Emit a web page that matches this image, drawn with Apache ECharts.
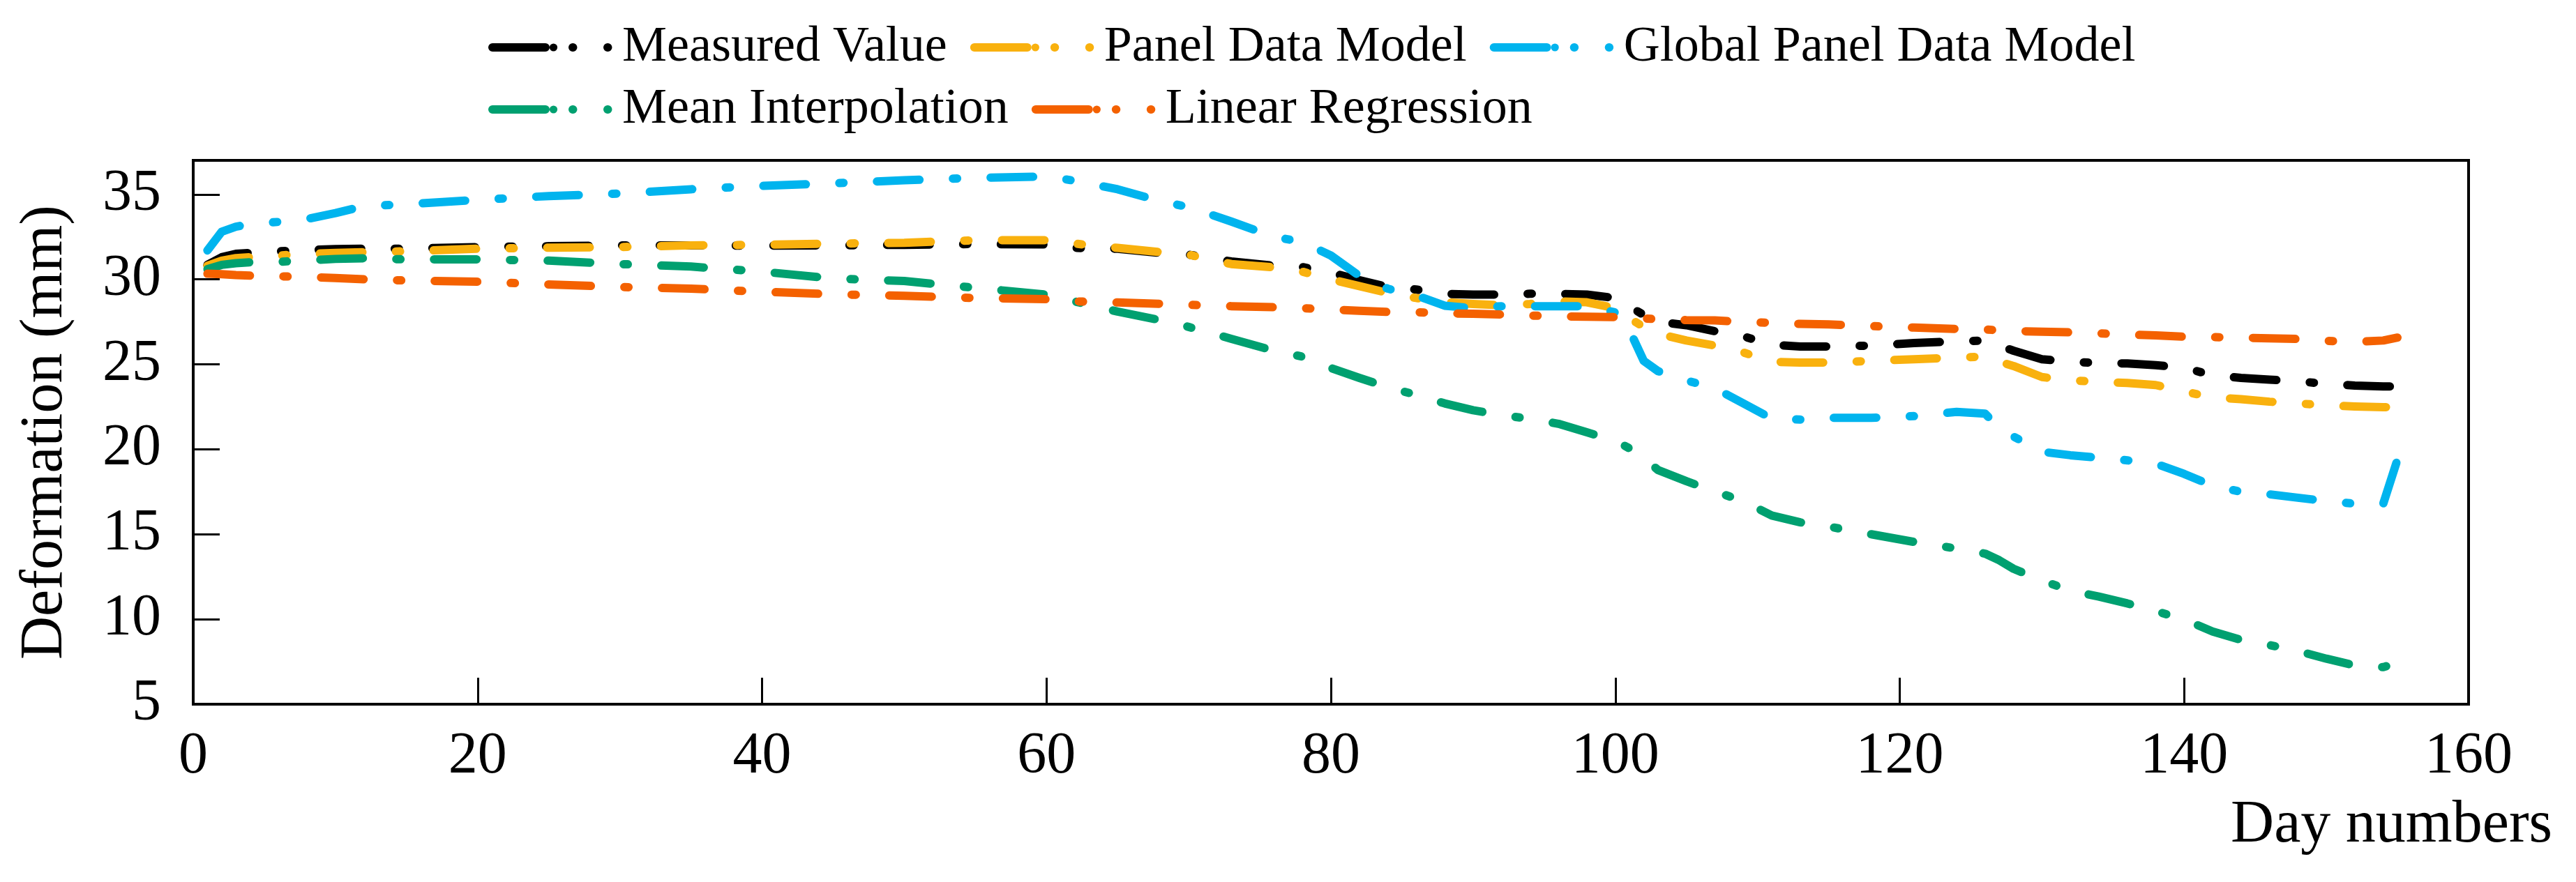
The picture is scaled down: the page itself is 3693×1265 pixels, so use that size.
<!DOCTYPE html>
<html>
<head>
<meta charset="utf-8">
<script src="https://cdn.jsdelivr.net/npm/echarts@6/dist/echarts.min.js"></script>
<style>
html,body{margin:0;padding:0;background:#fff;}
#chart{width:3693px;height:1265px;}
</style>
</head>
<body>
<div id="chart"></div>
<script>
const days = [1,2,3,4,6,8,10,12,15,20,25,30,35,40,45,50,55,60,62,65,68,70,73,76,78,80,82,84,86,88,90,92,94,96,98,100,101,102,103,105,107,109,111,113,115,118,121,124,126,127,128,130,132,134,136,138,140,142,144,146,148,150,152,154,155];

const measuredValue = [30.85,31.3,31.5,31.55, 31.65,31.72,31.78,31.8, 31.8,31.9,31.95,32.0,32.0,31.98,32.0,32.03,32.08,32.05, 31.85,31.8,31.55,31.45,31.05,30.8,30.72,30.4,29.95,29.55, 29.4,29.15,29.1,29.1,29.15,29.15,29.1,28.9, 28.4,27.9,27.5,27.3,26.95,26.65,26.15,26.05,26.05, 26.1,26.25,26.35,26.4,26.1,25.8, 25.3,25.15,25.08,25.05,24.95,24.8, 24.35,24.2,24.1,24.0,23.85,23.75,23.7,23.7];

const panelDataModel = [30.8,31.1,31.25,31.3, 31.4,31.5,31.55,31.6, 31.65,31.8,31.86,31.9,32.0,32.03,32.1,32.15,32.3,32.3, 32.1,31.85,31.6,31.45,30.9,30.7,30.45,30.0,29.6,29.2, 28.9,28.65,28.55,28.48,28.55,28.7,28.65,28.3, 27.7,27.2,26.8,26.4,26.1,25.7,25.15,25.1,25.1, 25.2,25.3,25.4,25.45,25.15,24.9, 24.25,24.05,23.98,23.9,23.78,23.4, 23.05,22.95,22.8,22.7,22.58,22.52,22.48,22.48];

const globalPanelDataModel = [31.7,32.8,33.1,33.25, 33.38,33.55,33.9,34.3, 34.42,34.68,34.9,35.05,35.3,35.5,35.65,35.83,35.97,36.05, 35.8,35.3,34.6,34.25,33.4,32.5,32.2,31.4,30.2,29.45, 29.05,28.45,28.3,28.42,28.42,28.42,28.42,28.05, 27.0,25.2,24.6,24.05,23.6,22.7,21.8,21.75,21.85, 21.85,21.95,22.2,22.1,21.25,20.75, 19.85,19.65,19.5,19.35,19.15,18.55, 17.85,17.5,17.35,17.15,16.95,16.8,16.8,19.4];

const meanInterpolation = [30.6,30.85,30.95,31.0, 31.03,31.12,31.2,31.24, 31.17,31.17,31.1,30.9,30.75,30.45,30.05,29.9,29.5,29.1, 28.7,28.1,27.6,27.2,26.5,25.8,25.45,24.78,24.2,23.65, 23.2,22.7,22.3,22.0,21.8,21.5,21.0,20.5, 20.05,19.5,18.78,18.12,17.52,16.95,16.1,15.7,15.45, 15.0,14.55,14.16,13.86,13.47,12.97, 12.28,11.68,11.33,10.93,10.48,9.98, 9.28,8.78,8.48,8.13,7.68,7.28,7.18,7.45];

const linearRegression = [30.33,30.3,30.25,30.22, 30.18,30.14,30.08,30.0, 29.93,29.86,29.7,29.55,29.45,29.27,29.12,29.03,28.9,28.83, 28.7,28.64,28.56,28.5,28.42,28.36,28.3,28.22,28.15,28.08, 28.07,28.0,27.97,27.93,27.87,27.82,27.8,27.78, 27.75,27.7,27.66,27.6,27.58,27.5,27.44,27.38,27.35, 27.25,27.16,27.08,27.05,27.0,26.96, 26.92,26.88,26.82,26.75,26.7,26.62, 26.6,26.57,26.53,26.49,26.38,26.32,26.4,26.57];

const seriesNames = ['Measured Value','Panel Data Model','Global Panel Data Model','Mean Interpolation','Linear Regression'];
const seriesValues = [measuredValue, panelDataModel, globalPanelDataModel, meanInterpolation, linearRegression];
const seriesColors = ['#000000','#F9B10E','#00B4EE','#00A070','#F46100'];
const xTicks = {min:0, max:160, interval:20};
const yTicks = {min:5, max:37, interval:5};

const FONT = "'Liberation Serif', 'Times New Roman', serif";
const chart = echarts.init(document.getElementById('chart'), null, {renderer:'canvas'});

const series = seriesNames.map((name, k) => ({
  name: name,
  type: 'line',
  symbol: 'none',
  showSymbol: false,
  smooth: false,
  data: days.map((d, i) => [d, seriesValues[k][i]]),
  itemStyle: {color: seriesColors[k]},
  lineStyle: {color: seriesColors[k], width: 12, type: [61, 48, 6, 48], cap: 'round', join: 'round'},
  z: 2 + k
}));

const legendCommon = {
  orient: 'horizontal',
  left: 700,
  padding: 0,
  itemWidth: 175,
  itemHeight: 14,
  itemGap: 33,
  icon: undefined,
  textStyle: {fontSize: 72, fontFamily: FONT, color: '#000', padding: [0,0,0,6]},
  lineStyle: {width: 12, type: [76, 39, 0.5, 49.5, 0.5, 200], cap: 'round'}
};

chart.setOption({
  animation: false,
  backgroundColor: '#ffffff',
  legend: [
    Object.assign({}, legendCommon, {top: 32, data: seriesNames.slice(0, 3)}),
    Object.assign({}, legendCommon, {top: 121, data: seriesNames.slice(3)})
  ],
  grid: {left: 277, right: 154, top: 230, bottom: 255, show: true, borderColor: '#000', borderWidth: 4, backgroundColor: 'transparent', containLabel: false},
  xAxis: {
    type: 'value', min: xTicks.min, max: xTicks.max, interval: xTicks.interval,
    name: 'Day numbers', nameLocation: 'end', nameGap: 120,
    nameTextStyle: {fontSize: 86, fontFamily: FONT, color: '#000', align: 'right', verticalAlign: 'top', padding: [131, 0, 0, 0]},
    axisLine: {show: true, lineStyle: {color: '#000', width: 4}},
    axisTick: {show: true, inside: true, length: 38, lineStyle: {color: '#000', width: 3}},
    axisLabel: {fontSize: 84, fontFamily: FONT, color: '#000', margin: 34},
    splitLine: {show: false}
  },
  yAxis: {
    type: 'value', min: yTicks.min, max: yTicks.max, interval: yTicks.interval,
    name: 'Deformation (mm)', nameLocation: 'middle', nameGap: 169,
    nameTextStyle: {fontSize: 86, fontFamily: FONT, color: '#000'},
    axisLine: {show: true, lineStyle: {color: '#000', width: 4}},
    axisTick: {show: true, inside: true, length: 38, lineStyle: {color: '#000', width: 3}},
    axisLabel: {fontSize: 84, fontFamily: FONT, color: '#000', margin: 46, showMaxLabel: false},
    splitLine: {show: false}
  },
  series: series
});
</script>
</body>
</html>
